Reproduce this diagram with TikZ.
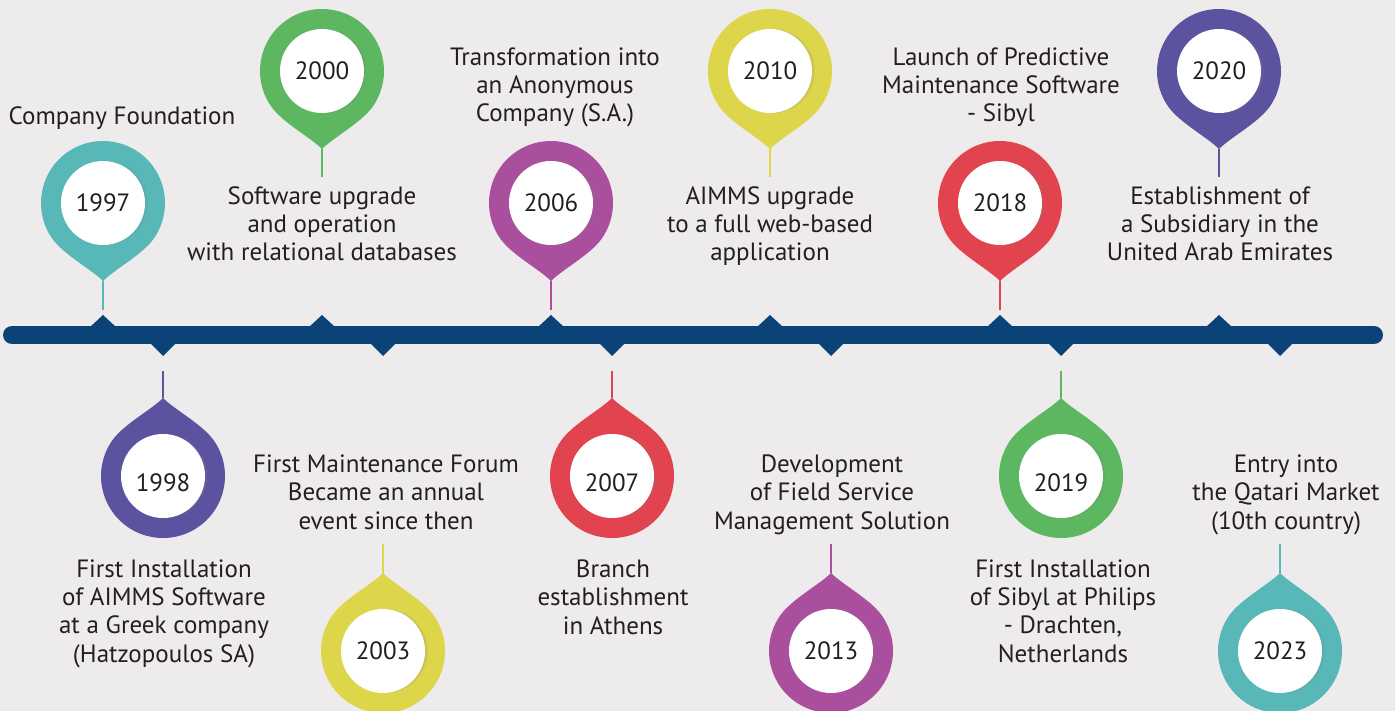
\documentclass[tikz,border=0pt]{standalone}
\usepackage{fontspec}
\setmainfont{PT Sans}
\usetikzlibrary{shadows}

\definecolor{paper}{HTML}{EDEBEC}
\definecolor{ink}{HTML}{231F20}
\definecolor{barblue}{HTML}{0B4379}
\definecolor{pinteal}{HTML}{57B8B7}
\definecolor{pinpurple}{HTML}{5B539F}
\definecolor{pingreen}{HTML}{5DB761}
\definecolor{pinmagenta}{HTML}{A94F9E}
\definecolor{pinyellow}{HTML}{DDD64B}
\definecolor{pinred}{HTML}{E1444F}

\begin{document}
\begin{tikzpicture}[x=1pt,y=-1pt,
    event/.style={align=center,anchor=base,text=ink,font=\fontsize{25}{28.3}\selectfont},
    year/.style={circle,fill=white,minimum size=84pt,inner sep=0pt,text=ink,
        font=\fontsize{25}{28}\selectfont,
        drop shadow={shadow xshift=3pt,shadow yshift=0pt,opacity=.12},
        drop shadow={shadow xshift=1.5pt,shadow yshift=0pt,opacity=.12}},
    low/.style={text height=31pt,text depth=0pt},
    stem/.style={line width=1.5pt},
    pics/drop/.style={code={
        \path[pic actions] (0,78) .. controls (-12,66) and (-39,52) .. (145:62)
            arc[start angle=145,end angle=395,radius=62]
            .. controls (39,52) and (12,66) .. cycle;
        \coordinate (-tip) at (0,78);
    }}]
\useasboundingbox[fill=paper] (0,0) rectangle (1395,711);

% the time line with its notches
\draw[barblue,line width=18pt,line cap=round] (12,335) -- (1374,335);
\foreach \x in {103,322,551,770,1000,1219}
    \fill[barblue] (\x-13,327) -- (\x,315) -- (\x+13,327) -- cycle;
\foreach \x in {163,383,612,831,1061,1280}
    \fill[barblue] (\x-13,343) -- (\x,356) -- (\x+13,343) -- cycle;

% pins above the line (texts are placed by their last baseline)
\pic[fill=pinteal] (p1997) at (103,203) {drop};
\node[year] (y1997) at (103,203) {1997};
\coordinate (b1997) at (103,310);
\draw[stem,pinteal] (p1997-tip) -- (b1997);
\node[event] (t1997) at (122,125) {Company Foundation};

\pic[fill=pingreen] (p2000) at (322,71) {drop};
\node[year] (y2000) at (322,71) {2000};
\coordinate (b2000) at (322,177);
\draw[stem,pingreen] (p2000-tip) -- (b2000);
\node[event] (t2000) at (322,261) {Software upgrade\\and operation\\with relational databases};

\pic[fill=pinmagenta] (p2006) at (551,203) {drop};
\node[year] (y2006) at (551,203) {2006};
\coordinate (b2006) at (551,310);
\draw[stem,pinmagenta] (p2006-tip) -- (b2006);
\node[event] (t2006) at (555,122) {Transformation into\\an Anonymous\\Company (S.A.)};

\pic[fill=pinyellow] (p2010) at (770,71) {drop};
\node[year] (y2010) at (770,71) {2010};
\coordinate (b2010) at (770,177);
\draw[stem,pinyellow] (p2010-tip) -- (b2010);
\node[event] (t2010) at (770,261) {AIMMS upgrade\\to a full web-based\\application};

\pic[fill=pinred] (p2018) at (1000,203) {drop};
\node[year] (y2018) at (1000,203) {2018};
\coordinate (b2018) at (1000,310);
\draw[stem,pinred] (p2018-tip) -- (b2018);
\node[event] (t2018) at (1001,122) {Launch of Predictive\\Maintenance Software\\- Sibyl};

\pic[fill=pinpurple] (p2020) at (1219,71) {drop};
\node[year] (y2020) at (1219,71) {2020};
\coordinate (b2020) at (1219,177);
\draw[stem,pinpurple] (p2020-tip) -- (b2020);
\node[event] (t2020) at (1220,261) {Establishment of\\a Subsidiary in the\\United Arab Emirates};

% pins below the line
\pic[fill=pinpurple,rotate=180] (p1998) at (163,476) {drop};
\node[year,low] (y1998) at (163,476) {1998};
\coordinate (b1998) at (163,371);
\draw[stem,pinpurple] (b1998) -- (p1998-tip);
\node[event] (t1998) at (164,662) {First Installation\\of AIMMS Software\\at a Greek company\\(Hatzopoulos SA)};

\pic[fill=pinyellow,rotate=180] (p2003) at (383,651) {drop};
\node[year] (y2003) at (383,651) {2003};
\coordinate (b2003) at (383,544);
\draw[stem,pinyellow] (b2003) -- (p2003-tip);
\node[event] (t2003) at (386,529) {First Maintenance Forum\\Became an annual\\event since then};

\pic[fill=pinred,rotate=180] (p2007) at (612,476) {drop};
\node[year,low] (y2007) at (612,476) {2007};
\coordinate (b2007) at (612,371);
\draw[stem,pinred] (b2007) -- (p2007-tip);
\node[event] (t2007) at (613,634) {Branch\\establishment\\in Athens};

\pic[fill=pinmagenta,rotate=180] (p2013) at (831,651) {drop};
\node[year] (y2013) at (831,651) {2013};
\coordinate (b2013) at (831,544);
\draw[stem,pinmagenta] (b2013) -- (p2013-tip);
\node[event] (t2013) at (832,529) {Development\\of Field Service\\Management Solution};

\pic[fill=pingreen,rotate=180] (p2019) at (1061,476) {drop};
\node[year,low] (y2019) at (1061,476) {2019};
\coordinate (b2019) at (1061,371);
\draw[stem,pingreen] (b2019) -- (p2019-tip);
\node[event] (t2019) at (1063,662) {First Installation\\of Sibyl at Philips\\- Drachten,\\Netherlands};

\pic[fill=pinteal,rotate=180] (p2023) at (1280,651) {drop};
\node[year] (y2023) at (1280,651) {2023};
\coordinate (b2023) at (1280,544);
\draw[stem,pinteal] (b2023) -- (p2023-tip);
\node[event] (t2023) at (1286,529) {Entry into\\the Qatari Market\\(10th country)};
\end{tikzpicture}
\end{document}
